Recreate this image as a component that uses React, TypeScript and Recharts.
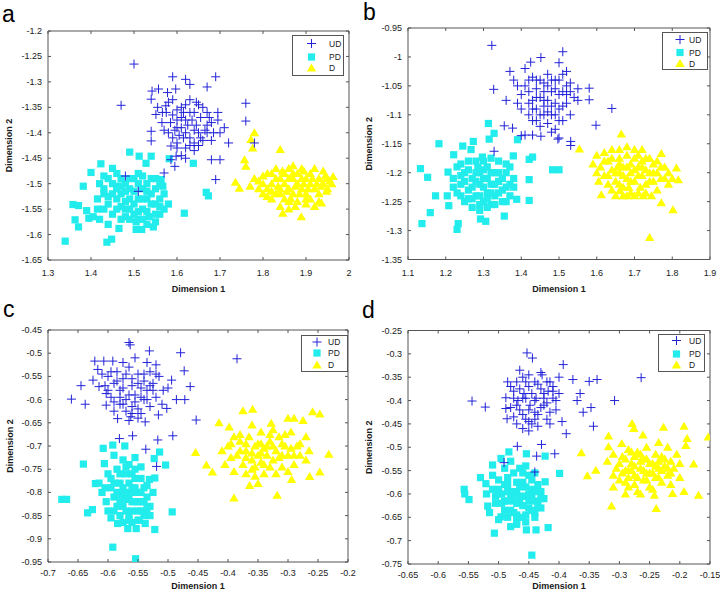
import React from 'react';
import { ScatterChart, Scatter, XAxis, YAxis, ReferenceLine, Legend } from 'recharts';

type P = [number, number];

// ---------- Panel a ----------
const aXTicks = [1.3, 1.4, 1.5, 1.6, 1.7, 1.8, 1.9, 2];
const aYTicks = [-1.65, -1.6, -1.55, -1.5, -1.45, -1.4, -1.35, -1.3, -1.25, -1.2];
const aUD: P[] = [[1.50,-1.265],[1.47,-1.346],[1.59,-1.29],[1.62,-1.295],[1.63,-1.305],[1.69,-1.29],[1.67,-1.31],[1.76,-1.342],[1.76,-1.377],[1.78,-1.42],[1.72,-1.42],[1.70,-1.453],[1.68,-1.453],[1.69,-1.492],[1.57,-1.479],[1.595,-1.466],[1.586,-1.453],[1.542,-1.318],[1.54,-1.334],[1.54,-1.397],[1.54,-1.416],[1.557,-1.314],[1.578,-1.321],[1.597,-1.314],[1.586,-1.426],[1.598,-1.446],[1.551,-1.364],[1.566,-1.36],[1.574,-1.347],[1.59,-1.335],[1.60,-1.355],[1.61,-1.37],[1.62,-1.345],[1.63,-1.335],[1.64,-1.36],[1.65,-1.345],[1.66,-1.35],[1.67,-1.36],[1.695,-1.36],[1.695,-1.375],[1.70,-1.40],[1.71,-1.39],[1.61,-1.39],[1.62,-1.40],[1.63,-1.41],[1.64,-1.42],[1.65,-1.40],[1.66,-1.415],[1.67,-1.40],[1.68,-1.415],[1.60,-1.43],[1.61,-1.445],[1.62,-1.45],[1.58,-1.40],[1.585,-1.38],[1.60,-1.375],[1.625,-1.385],[1.635,-1.375],[1.645,-1.385],[1.655,-1.37],[1.68,-1.38],[1.59,-1.41],[1.57,-1.395],[1.605,-1.405],[1.63,-1.425],[1.48,-1.485],[1.51,-1.515],[1.67,-1.385],[1.575,-1.36],[1.615,-1.36],
  [1.59,-1.365],[1.60,-1.39],[1.61,-1.35],[1.615,-1.41],[1.62,-1.375],[1.63,-1.36],[1.64,-1.395],[1.645,-1.34],[1.655,-1.41],[1.665,-1.395],[1.675,-1.37],[1.685,-1.40],[1.60,-1.42],[1.64,-1.435],[1.58,-1.34],[1.565,-1.38],[1.555,-1.35],[1.62,-1.43],[1.65,-1.425],[1.595,-1.395]];
const aPD: P[] = [[1.34,-1.613],[1.437,-1.615],[1.448,-1.609],[1.371,-1.585],[1.363,-1.571],[1.358,-1.541],[1.371,-1.543],[1.382,-1.505],[1.39,-1.553],[1.395,-1.568],[1.40,-1.478],[1.423,-1.461],[1.405,-1.565],[1.49,-1.438],[1.512,-1.446],[1.528,-1.46],[1.54,-1.446],[1.465,-1.588],[1.518,-1.59],[1.617,-1.558],[1.673,-1.524],[1.668,-1.517],[1.638,-1.46],[1.582,-1.451],[1.563,-1.492],[1.567,-1.505],[1.42,-1.50],[1.43,-1.52],[1.44,-1.54],[1.45,-1.50],[1.46,-1.48],[1.47,-1.52],[1.48,-1.55],[1.49,-1.51],[1.50,-1.49],[1.51,-1.53],[1.52,-1.55],[1.53,-1.50],[1.54,-1.52],[1.55,-1.54],[1.56,-1.56],[1.45,-1.56],[1.47,-1.57],[1.49,-1.57],[1.51,-1.57],[1.53,-1.58],[1.55,-1.575],[1.44,-1.58],[1.46,-1.53],[1.48,-1.50],[1.50,-1.54],[1.52,-1.51],[1.54,-1.49],[1.56,-1.53],[1.57,-1.55],[1.43,-1.55],[1.47,-1.49],[1.49,-1.53],[1.51,-1.50],[1.53,-1.53],[1.55,-1.51],[1.42,-1.57],[1.46,-1.505],[1.50,-1.56],[1.52,-1.485],[1.45,-1.52],[1.48,-1.535],[1.535,-1.565],[1.415,-1.53],[1.505,-1.59],
  [1.44,-1.49],[1.45,-1.47],[1.46,-1.51],[1.47,-1.545],[1.48,-1.515],[1.49,-1.49],[1.49,-1.55],[1.50,-1.515],[1.51,-1.48],[1.51,-1.555],[1.52,-1.53],[1.53,-1.515],[1.53,-1.555],[1.54,-1.54],[1.55,-1.49],[1.55,-1.56],[1.56,-1.50],[1.56,-1.545],[1.57,-1.52],[1.58,-1.54],[1.43,-1.51],[1.44,-1.525],[1.46,-1.55],[1.47,-1.505],[1.52,-1.57],[1.48,-1.565],[1.505,-1.575],[1.545,-1.585],[1.415,-1.55],[1.43,-1.485]];
const aD: P[] = [[1.78,-1.40],[1.772,-1.413],[1.776,-1.43],[1.84,-1.433],[1.757,-1.453],[1.76,-1.466],[1.736,-1.497],[1.745,-1.509],[1.889,-1.565],[1.846,-1.558],[1.963,-1.486],[1.948,-1.515],[1.936,-1.538],[1.78,-1.49],[1.79,-1.51],[1.80,-1.50],[1.81,-1.48],[1.82,-1.50],[1.83,-1.47],[1.83,-1.52],[1.84,-1.49],[1.85,-1.50],[1.85,-1.53],[1.86,-1.47],[1.86,-1.51],[1.87,-1.49],[1.87,-1.52],[1.88,-1.48],[1.88,-1.50],[1.89,-1.51],[1.89,-1.47],[1.90,-1.49],[1.90,-1.52],[1.91,-1.50],[1.91,-1.48],[1.92,-1.51],[1.92,-1.47],[1.93,-1.49],[1.94,-1.50],[1.95,-1.49],[1.96,-1.50],[1.82,-1.53],[1.84,-1.545],[1.86,-1.55],[1.90,-1.54],[1.92,-1.545],[1.88,-1.535],[1.80,-1.52],[1.77,-1.505],[1.93,-1.52],[1.87,-1.465],[1.83,-1.49],[1.85,-1.48],[1.89,-1.49],[1.91,-1.53],[1.94,-1.475],[1.86,-1.49],[1.81,-1.51],[1.95,-1.51],[1.84,-1.51],
  [1.80,-1.485],[1.82,-1.515],[1.835,-1.505],[1.845,-1.475],[1.855,-1.515],[1.865,-1.53],[1.875,-1.505],[1.885,-1.52],[1.895,-1.50],[1.905,-1.51],[1.915,-1.49],[1.925,-1.50],[1.935,-1.505],[1.945,-1.485],[1.955,-1.495],[1.87,-1.48],[1.895,-1.475],[1.82,-1.48],[1.79,-1.495],[1.86,-1.535],[1.90,-1.53],[1.84,-1.52],[1.875,-1.545],[1.93,-1.535],[1.81,-1.525]];

// ---------- Panel b ----------
const bXTicks = [1.1, 1.2, 1.3, 1.4, 1.5, 1.6, 1.7, 1.8, 1.9];
const bYTicks = [-1.35, -1.3, -1.25, -1.2, -1.15, -1.1, -1.05, -1, -0.95];
const bUD: P[] = [[1.322,-0.98],[1.327,-1.056],[1.51,-0.991],[1.452,-1.001],[1.425,-1.009],[1.58,-1.054],[1.58,-1.074],[1.64,-1.089],[1.598,-1.118],[1.355,-1.119],[1.377,-1.123],[1.328,-1.163],[1.531,-1.146],[1.531,-1.153],[1.497,-1.142],[1.452,-1.137],[1.40,-1.136],[1.36,-1.075],[1.37,-1.025],[1.38,-1.04],[1.39,-1.05],[1.40,-1.065],[1.41,-1.02],[1.42,-1.08],[1.43,-1.035],[1.44,-1.055],[1.45,-1.07],[1.46,-1.045],[1.47,-1.03],[1.48,-1.06],[1.49,-1.04],[1.50,-1.01],[1.50,-1.065],[1.51,-1.03],[1.52,-1.05],[1.53,-1.06],[1.54,-1.07],[1.55,-1.055],[1.42,-1.10],[1.43,-1.11],[1.44,-1.09],[1.45,-1.10],[1.46,-1.085],[1.47,-1.115],[1.48,-1.10],[1.49,-1.125],[1.50,-1.09],[1.51,-1.11],[1.52,-1.08],[1.53,-1.10],[1.41,-1.135],[1.43,-1.135],[1.48,-1.13],[1.50,-1.14],[1.40,-1.09],[1.39,-1.08],[1.47,-1.075],[1.44,-1.04],[1.52,-1.025],[1.46,-1.06],[1.49,-1.08],[1.42,-1.06],[1.51,-1.085],[1.45,-1.12],[1.55,-1.075],
  [1.41,-1.05],[1.42,-1.04],[1.43,-1.075],[1.44,-1.07],[1.45,-1.04],[1.46,-1.075],[1.47,-1.05],[1.48,-1.04],[1.48,-1.085],[1.49,-1.055],[1.50,-1.04],[1.51,-1.06],[1.52,-1.065],[1.53,-1.045],[1.46,-1.10],[1.44,-1.11],[1.47,-1.095],[1.50,-1.11],[1.49,-1.10],[1.43,-1.09]];
const bPD: P[] = [[1.133,-1.193],[1.137,-1.288],[1.159,-1.269],[1.152,-1.208],[1.173,-1.24],[1.182,-1.15],[1.204,-1.24],[1.208,-1.257],[1.23,-1.298],[1.233,-1.288],[1.206,-1.199],[1.221,-1.169],[1.245,-1.154],[1.267,-1.16],[1.273,-1.146],[1.313,-1.115],[1.328,-1.132],[1.315,-1.142],[1.297,-1.173],[1.39,-1.143],[1.379,-1.171],[1.388,-1.246],[1.355,-1.275],[1.306,-1.284],[1.292,-1.28],[1.421,-1.177],[1.43,-1.173],[1.421,-1.212],[1.421,-1.248],[1.483,-1.195],[1.50,-1.195],[1.285,-1.191],[1.22,-1.21],[1.23,-1.19],[1.24,-1.22],[1.25,-1.20],[1.26,-1.23],[1.26,-1.18],[1.27,-1.21],[1.28,-1.24],[1.28,-1.20],[1.29,-1.22],[1.30,-1.25],[1.30,-1.21],[1.31,-1.19],[1.31,-1.235],[1.32,-1.22],[1.32,-1.255],[1.33,-1.20],[1.33,-1.24],[1.34,-1.215],[1.34,-1.18],[1.35,-1.23],[1.36,-1.20],[1.36,-1.25],[1.37,-1.22],[1.38,-1.21],[1.25,-1.25],[1.27,-1.26],[1.29,-1.255],[1.24,-1.185],[1.35,-1.25],[1.31,-1.26],[1.23,-1.235],[1.37,-1.19],[1.28,-1.18],[1.32,-1.175],
  [1.25,-1.215],[1.26,-1.195],[1.27,-1.225],[1.27,-1.245],[1.28,-1.215],[1.29,-1.20],[1.29,-1.24],[1.30,-1.225],[1.30,-1.195],[1.31,-1.21],[1.31,-1.245],[1.32,-1.20],[1.32,-1.235],[1.33,-1.22],[1.33,-1.255],[1.34,-1.235],[1.34,-1.20],[1.35,-1.21],[1.36,-1.225],[1.37,-1.24],[1.22,-1.225],[1.24,-1.205],[1.26,-1.245],[1.29,-1.265],[1.38,-1.225],[1.30,-1.18],[1.24,-1.24],[1.36,-1.185]];
const bD: P[] = [[1.665,-1.133],[1.554,-1.159],[1.802,-1.264],[1.74,-1.312],[1.771,-1.252],[1.811,-1.192],[1.816,-1.212],[1.612,-1.238],[1.661,-1.231],[1.723,-1.24],[1.771,-1.167],[1.60,-1.17],[1.61,-1.19],[1.62,-1.165],[1.62,-1.205],[1.63,-1.18],[1.64,-1.195],[1.64,-1.16],[1.65,-1.215],[1.66,-1.175],[1.66,-1.20],[1.67,-1.19],[1.67,-1.225],[1.68,-1.17],[1.68,-1.21],[1.69,-1.185],[1.69,-1.20],[1.70,-1.175],[1.70,-1.215],[1.71,-1.19],[1.71,-1.17],[1.72,-1.205],[1.72,-1.18],[1.73,-1.195],[1.73,-1.22],[1.74,-1.175],[1.74,-1.20],[1.75,-1.185],[1.75,-1.215],[1.76,-1.20],[1.77,-1.19],[1.78,-1.21],[1.79,-1.20],[1.80,-1.21],[1.65,-1.24],[1.67,-1.24],[1.69,-1.235],[1.70,-1.24],[1.63,-1.22],[1.60,-1.20],[1.76,-1.23],[1.68,-1.155],[1.70,-1.16],[1.72,-1.16],[1.59,-1.185],[1.66,-1.16],[1.745,-1.24],[1.715,-1.225],[1.685,-1.225],[1.655,-1.19],
  [1.62,-1.18],[1.63,-1.205],[1.64,-1.175],[1.65,-1.20],[1.66,-1.185],[1.67,-1.205],[1.68,-1.19],[1.69,-1.215],[1.70,-1.195],[1.71,-1.205],[1.72,-1.19],[1.73,-1.175],[1.74,-1.215],[1.75,-1.20],[1.76,-1.18],[1.77,-1.21],[1.78,-1.19],[1.66,-1.22],[1.68,-1.24],[1.71,-1.235],[1.73,-1.235],[1.64,-1.23],[1.605,-1.215],[1.79,-1.22]];

// ---------- Panel c ----------
const cXTicks = [-0.7, -0.65, -0.6, -0.55, -0.5, -0.45, -0.4, -0.35, -0.3, -0.25, -0.2];
const cYTicks = [-0.95, -0.9, -0.85, -0.8, -0.75, -0.7, -0.65, -0.6, -0.55, -0.5, -0.45];
const cUD: P[] = [[-0.661,-0.599],[-0.638,-0.61],[-0.565,-0.477],[-0.563,-0.482],[-0.531,-0.495],[-0.479,-0.499],[-0.385,-0.512],[-0.473,-0.538],[-0.463,-0.572],[-0.472,-0.60],[-0.486,-0.60],[-0.453,-0.644],[-0.492,-0.678],[-0.517,-0.687],[-0.559,-0.678],[-0.581,-0.684],[-0.537,-0.707],[-0.519,-0.744],[-0.622,-0.517],[-0.607,-0.517],[-0.592,-0.517],[-0.617,-0.535],[-0.625,-0.558],[-0.615,-0.572],[-0.603,-0.587],[-0.603,-0.612],[-0.584,-0.641],[-0.562,-0.637],[-0.538,-0.648],[-0.516,-0.633],[-0.502,-0.619],[-0.508,-0.58],[-0.494,-0.558],[-0.60,-0.55],[-0.59,-0.565],[-0.585,-0.54],[-0.58,-0.58],[-0.575,-0.555],[-0.57,-0.60],[-0.565,-0.53],[-0.56,-0.57],[-0.555,-0.59],[-0.55,-0.545],[-0.55,-0.62],[-0.545,-0.575],[-0.54,-0.56],[-0.54,-0.60],[-0.535,-0.58],[-0.53,-0.54],[-0.525,-0.565],[-0.52,-0.595],[-0.515,-0.55],[-0.51,-0.61],[-0.58,-0.61],[-0.57,-0.625],[-0.56,-0.615],[-0.545,-0.63],[-0.595,-0.595],[-0.605,-0.57],[-0.575,-0.52],[-0.555,-0.51],[-0.535,-0.52],[-0.52,-0.525],[-0.59,-0.625],[-0.565,-0.645],[-0.53,-0.615],[-0.50,-0.575],[-0.645,-0.57],[-0.61,-0.545],
  [-0.595,-0.54],[-0.585,-0.56],[-0.58,-0.595],[-0.575,-0.575],[-0.57,-0.545],[-0.565,-0.59],[-0.56,-0.555],[-0.555,-0.605],[-0.55,-0.565],[-0.545,-0.595],[-0.54,-0.545],[-0.535,-0.60],[-0.53,-0.57],[-0.525,-0.58],[-0.56,-0.63],[-0.55,-0.64],[-0.575,-0.61],[-0.60,-0.58],[-0.59,-0.605],[-0.52,-0.545]];
const cPD: P[] = [[-0.677,-0.815],[-0.669,-0.815],[-0.641,-0.739],[-0.634,-0.844],[-0.626,-0.837],[-0.608,-0.705],[-0.592,-0.698],[-0.572,-0.70],[-0.592,-0.918],[-0.554,-0.943],[-0.493,-0.842],[-0.504,-0.741],[-0.514,-0.713],[-0.523,-0.727],[-0.522,-0.769],[-0.522,-0.88],[-0.531,-0.772],[-0.606,-0.738],[-0.621,-0.781],[-0.603,-0.82],[-0.584,-0.867],[-0.567,-0.878],[-0.553,-0.878],[-0.538,-0.867],[-0.615,-0.78],[-0.60,-0.76],[-0.595,-0.79],[-0.59,-0.81],[-0.585,-0.75],[-0.58,-0.78],[-0.575,-0.83],[-0.57,-0.80],[-0.57,-0.76],[-0.565,-0.85],[-0.56,-0.79],[-0.56,-0.82],[-0.555,-0.77],[-0.55,-0.84],[-0.55,-0.80],[-0.545,-0.82],[-0.54,-0.79],[-0.54,-0.85],[-0.535,-0.81],[-0.53,-0.83],[-0.585,-0.83],[-0.58,-0.85],[-0.6,-0.84],[-0.575,-0.73],[-0.565,-0.74],[-0.555,-0.75],[-0.545,-0.745],[-0.59,-0.72],[-0.58,-0.805],[-0.565,-0.815],[-0.548,-0.86],[-0.535,-0.785],[-0.61,-0.80],[-0.575,-0.865],[-0.56,-0.865],[-0.595,-0.855],[-0.525,-0.80],[-0.555,-0.725],
  [-0.59,-0.78],[-0.585,-0.80],[-0.58,-0.82],[-0.575,-0.79],[-0.57,-0.815],[-0.57,-0.84],[-0.565,-0.78],[-0.56,-0.80],[-0.56,-0.84],[-0.555,-0.82],[-0.555,-0.79],[-0.55,-0.82],[-0.55,-0.86],[-0.545,-0.80],[-0.545,-0.84],[-0.54,-0.82],[-0.535,-0.835],[-0.53,-0.85],[-0.58,-0.76],[-0.57,-0.745],[-0.59,-0.84],[-0.56,-0.76],[-0.595,-0.77],[-0.605,-0.79],[-0.565,-0.86],[-0.545,-0.77]];
const cD: P[] = [[-0.454,-0.714],[-0.436,-0.741],[-0.426,-0.756],[-0.39,-0.812],[-0.318,-0.806],[-0.375,-0.624],[-0.359,-0.621],[-0.259,-0.626],[-0.247,-0.631],[-0.232,-0.718],[-0.247,-0.756],[-0.264,-0.766],[-0.294,-0.772],[-0.415,-0.65],[-0.398,-0.659],[-0.364,-0.785],[-0.35,-0.781],[-0.328,-0.651],[-0.30,-0.64],[-0.29,-0.64],[-0.275,-0.645],[-0.27,-0.68],[-0.265,-0.71],[-0.27,-0.73],[-0.41,-0.71],[-0.40,-0.70],[-0.39,-0.68],[-0.385,-0.72],[-0.38,-0.69],[-0.375,-0.74],[-0.37,-0.71],[-0.365,-0.68],[-0.36,-0.75],[-0.355,-0.70],[-0.35,-0.72],[-0.345,-0.67],[-0.34,-0.74],[-0.335,-0.70],[-0.33,-0.69],[-0.325,-0.73],[-0.32,-0.71],[-0.315,-0.68],[-0.31,-0.745],[-0.305,-0.70],[-0.30,-0.72],[-0.295,-0.67],[-0.29,-0.74],[-0.285,-0.70],[-0.28,-0.72],[-0.37,-0.76],[-0.355,-0.765],[-0.34,-0.76],[-0.32,-0.76],[-0.405,-0.74],[-0.39,-0.755],[-0.36,-0.655],[-0.345,-0.695],[-0.325,-0.665],[-0.31,-0.72],[-0.30,-0.755],[-0.38,-0.71],[-0.395,-0.725],[-0.345,-0.715],
  [-0.38,-0.675],[-0.37,-0.695],[-0.36,-0.715],[-0.35,-0.695],[-0.345,-0.735],[-0.335,-0.72],[-0.33,-0.745],[-0.325,-0.70],[-0.315,-0.725],[-0.31,-0.695],[-0.305,-0.675],[-0.295,-0.705],[-0.29,-0.72],[-0.28,-0.695],[-0.36,-0.73],[-0.37,-0.725],[-0.34,-0.705],[-0.355,-0.745],[-0.33,-0.675],[-0.395,-0.695]];

// ---------- Panel d ----------
const dXTicks = [-0.65, -0.6, -0.55, -0.5, -0.45, -0.4, -0.35, -0.3, -0.25, -0.2, -0.15];
const dYTicks = [-0.75, -0.7, -0.65, -0.6, -0.55, -0.5, -0.45, -0.4, -0.35, -0.3, -0.25];
const dUD: P[] = [[-0.544,-0.401],[-0.522,-0.414],[-0.453,-0.298],[-0.444,-0.309],[-0.393,-0.323],[-0.264,-0.351],[-0.308,-0.40],[-0.343,-0.455],[-0.347,-0.415],[-0.35,-0.359],[-0.337,-0.355],[-0.377,-0.355],[-0.388,-0.471],[-0.407,-0.514],[-0.429,-0.494],[-0.437,-0.519],[-0.44,-0.553],[-0.469,-0.498],[-0.491,-0.533],[-0.488,-0.394],[-0.488,-0.417],[-0.486,-0.439],[-0.48,-0.37],[-0.475,-0.38],[-0.47,-0.36],[-0.468,-0.40],[-0.465,-0.42],[-0.46,-0.35],[-0.458,-0.385],[-0.455,-0.44],[-0.45,-0.37],[-0.448,-0.41],[-0.445,-0.45],[-0.44,-0.36],[-0.438,-0.395],[-0.435,-0.43],[-0.43,-0.375],[-0.428,-0.345],[-0.425,-0.41],[-0.42,-0.44],[-0.418,-0.38],[-0.415,-0.36],[-0.41,-0.395],[-0.405,-0.42],[-0.40,-0.385],[-0.40,-0.35],[-0.395,-0.445],[-0.47,-0.45],[-0.46,-0.46],[-0.45,-0.465],[-0.435,-0.455],[-0.415,-0.45],[-0.475,-0.435],[-0.485,-0.36],[-0.465,-0.335],[-0.43,-0.34],[-0.37,-0.40],[-0.36,-0.425],[-0.365,-0.385],[-0.44,-0.425],[-0.455,-0.395],[-0.425,-0.385],[-0.41,-0.37],[-0.45,-0.345],
  [-0.475,-0.395],[-0.47,-0.41],[-0.465,-0.375],[-0.46,-0.395],[-0.455,-0.36],[-0.45,-0.42],[-0.445,-0.385],[-0.44,-0.40],[-0.435,-0.365],[-0.43,-0.415],[-0.425,-0.395],[-0.42,-0.36],[-0.415,-0.425],[-0.41,-0.38],[-0.46,-0.43],[-0.45,-0.445],[-0.44,-0.44],[-0.48,-0.415],[-0.42,-0.405],[-0.405,-0.40]];
const dPD: P[] = [[-0.557,-0.59],[-0.556,-0.60],[-0.549,-0.612],[-0.53,-0.565],[-0.507,-0.684],[-0.445,-0.731],[-0.496,-0.524],[-0.483,-0.51],[-0.454,-0.514],[-0.423,-0.519],[-0.399,-0.556],[-0.418,-0.672],[-0.438,-0.677],[-0.454,-0.677],[-0.48,-0.67],[-0.423,-0.574],[-0.51,-0.538],[-0.521,-0.578],[-0.518,-0.626],[-0.496,-0.649],[-0.52,-0.60],[-0.51,-0.59],[-0.505,-0.62],[-0.50,-0.57],[-0.495,-0.60],[-0.49,-0.635],[-0.485,-0.58],[-0.48,-0.61],[-0.475,-0.555],[-0.475,-0.64],[-0.47,-0.595],[-0.465,-0.62],[-0.46,-0.575],[-0.46,-0.65],[-0.455,-0.605],[-0.45,-0.63],[-0.45,-0.56],[-0.445,-0.59],[-0.44,-0.615],[-0.44,-0.65],[-0.435,-0.58],[-0.43,-0.63],[-0.425,-0.61],[-0.49,-0.545],[-0.48,-0.53],[-0.465,-0.545],[-0.455,-0.54],[-0.44,-0.555],[-0.5,-0.655],[-0.485,-0.65],[-0.47,-0.665],[-0.455,-0.66],[-0.51,-0.56],[-0.515,-0.64],[-0.49,-0.615],[-0.475,-0.615],[-0.46,-0.605],[-0.445,-0.635],[-0.43,-0.595],[-0.5,-0.59],[-0.465,-0.585],[-0.485,-0.595],
  [-0.50,-0.60],[-0.495,-0.62],[-0.49,-0.58],[-0.485,-0.615],[-0.48,-0.595],[-0.48,-0.635],[-0.475,-0.60],[-0.47,-0.62],[-0.47,-0.645],[-0.465,-0.605],[-0.46,-0.625],[-0.455,-0.585],[-0.455,-0.645],[-0.45,-0.60],[-0.45,-0.615],[-0.445,-0.61],[-0.44,-0.595],[-0.435,-0.625],[-0.43,-0.61],[-0.47,-0.575],[-0.46,-0.555],[-0.445,-0.57],[-0.485,-0.565],[-0.505,-0.605],[-0.44,-0.64],[-0.47,-0.655]];
const dD: P[] = [[-0.363,-0.512],[-0.353,-0.561],[-0.339,-0.549],[-0.313,-0.626],[-0.279,-0.449],[-0.276,-0.46],[-0.239,-0.631],[-0.242,-0.603],[-0.212,-0.599],[-0.193,-0.595],[-0.169,-0.603],[-0.153,-0.478],[-0.193,-0.455],[-0.227,-0.457],[-0.188,-0.481],[-0.19,-0.496],[-0.177,-0.536],[-0.318,-0.476],[-0.318,-0.499],[-0.296,-0.492],[-0.261,-0.474],[-0.32,-0.53],[-0.31,-0.515],[-0.305,-0.545],[-0.30,-0.57],[-0.295,-0.52],[-0.29,-0.55],[-0.285,-0.505],[-0.285,-0.585],[-0.28,-0.535],[-0.275,-0.56],[-0.27,-0.51],[-0.27,-0.595],[-0.265,-0.545],[-0.26,-0.525],[-0.26,-0.57],[-0.255,-0.50],[-0.25,-0.555],[-0.25,-0.585],[-0.245,-0.535],[-0.24,-0.515],[-0.24,-0.565],[-0.235,-0.545],[-0.23,-0.52],[-0.23,-0.575],[-0.225,-0.54],[-0.22,-0.50],[-0.22,-0.56],[-0.215,-0.53],[-0.21,-0.545],[-0.205,-0.515],[-0.20,-0.565],[-0.20,-0.535],[-0.31,-0.585],[-0.29,-0.60],[-0.265,-0.60],[-0.235,-0.49],[-0.31,-0.56],[-0.275,-0.52],[-0.245,-0.59],[-0.215,-0.58],[-0.255,-0.525],[-0.285,-0.55],
  [-0.30,-0.535],[-0.295,-0.555],[-0.29,-0.525],[-0.285,-0.565],[-0.28,-0.55],[-0.275,-0.54],[-0.27,-0.565],[-0.265,-0.53],[-0.26,-0.55],[-0.255,-0.57],[-0.25,-0.535],[-0.245,-0.555],[-0.24,-0.54],[-0.235,-0.53],[-0.23,-0.55],[-0.225,-0.525],[-0.22,-0.545],[-0.215,-0.555],[-0.28,-0.51],[-0.265,-0.515],[-0.275,-0.58],[-0.29,-0.575],[-0.255,-0.555],[-0.235,-0.565]];

const seriesNames = ['UD', 'PD', 'D'];
const xTitle = 'Dimension 1';
const yTitle = 'Dimension 2';

const FONT = '"Liberation Sans", Arial, Helvetica, sans-serif';
const BLUE = '#2222d8';
const CYAN = '#22ecec';
const YELLOW = '#ffff00';
const FRAME = '#555555';
const TXT = '#1a1a1a';

const toXY = (arr: P[]) => arr.map(([x, y]) => ({ x, y }));
const fmt = (v: number) => String(Number(v.toFixed(3)));

function PlusShape(props: any) {
  const { cx, cy } = props;
  if (cx == null || cy == null) return null;
  return (
    <g>
      <line x1={cx - 4.5} x2={cx + 4.5} y1={cy} y2={cy} stroke={BLUE} strokeWidth={1} />
      <line x1={cx} x2={cx} y1={cy - 4.5} y2={cy + 4.5} stroke={BLUE} strokeWidth={1} />
    </g>
  );
}
function SquareShape(props: any) {
  const { cx, cy } = props;
  if (cx == null || cy == null) return null;
  return <rect x={cx - 3.6} y={cy - 3.6} width={7.2} height={7.2} fill={CYAN} />;
}
function TriShape(props: any) {
  const { cx, cy } = props;
  if (cx == null || cy == null) return null;
  return <polygon points={`${cx},${cy - 4.5} ${cx + 4.7},${cy + 3.5} ${cx - 4.7},${cy + 3.5}`} fill={YELLOW} />;
}

interface Panel {
  letter: string; lx: number; ly: number;
  L: number; R: number; T: number; B: number;
  xTicks: number[]; yTicks: number[];
  ud: P[]; pd: P[]; d: P[];
  xLabDy: number; xTitleY: number; yTitleX: number;
  lg: { left: number; top: number; w: number; h: number; mx: number; tx: number; rows: number[] };
}

const panels: Panel[] = [
  { letter: 'a', lx: 2, ly: 21.5, L: 48, R: 349, T: 31, B: 260, xTicks: aXTicks, yTicks: aYTicks, ud: aUD, pd: aPD, d: aD,
    xLabDy: 16, xTitleY: 292, yTitleX: 12, lg: { left: 292, top: 35, w: 52, h: 41, mx: 19.5, tx: 37, rows: [8.5, 22, 33] } },
  { letter: 'b', lx: 363, ly: 20, L: 408, R: 710, T: 28, B: 259.5, xTicks: bXTicks, yTicks: bYTicks, ud: bUD, pd: bPD, d: bD,
    xLabDy: 16, xTitleY: 292, yTitleX: 372, lg: { left: 662, top: 32, w: 46, h: 38, mx: 18, tx: 27, rows: [7.5, 20.5, 31.5] } },
  { letter: 'c', lx: 3, ly: 317, L: 48, R: 348, T: 330, B: 562, xTicks: cXTicks, yTicks: cYTicks, ud: cUD, pd: cPD, d: cD,
    xLabDy: 14, xTitleY: 588.5, yTitleX: 13, lg: { left: 301, top: 335, w: 47, h: 37, mx: 16, tx: 27, rows: [7, 18, 30] } },
  { letter: 'd', lx: 362, ly: 318, L: 408, R: 710, T: 330.5, B: 564, xTicks: dXTicks, yTicks: dYTicks, ud: dUD, pd: dPD, d: dD,
    xLabDy: 14, xTitleY: 588.5, yTitleX: 372, lg: { left: 658, top: 334, w: 47, h: 38, mx: 18.5, tx: 31, rows: [6.5, 20, 31] } },
];

function LegendBox({ lg }: { lg: Panel['lg'] }) {
  const shapes = [PlusShape, SquareShape, TriShape];
  return (
    <svg width={lg.w} height={lg.h} style={{ display: 'block' }}>
      <rect x={0.5} y={0.5} width={lg.w - 1} height={lg.h - 1} fill="#ffffff" stroke={FRAME} strokeWidth={1} />
      {seriesNames.map((n, i) => {
        const S = shapes[i];
        return (
          <g key={n}>
            <S cx={lg.mx} cy={lg.rows[i]} />
            <text x={lg.tx} y={lg.rows[i] + 3} fontSize={8.5} fontFamily={FONT} fill={TXT}>{n}</text>
          </g>
        );
      })}
    </svg>
  );
}

function PanelChart({ p }: { p: Panel }) {
  const YW = 40;
  const XH = 20;
  const xDom: [number, number] = [p.xTicks[0], p.xTicks[p.xTicks.length - 1]];
  const yDom: [number, number] = [p.yTicks[0], p.yTicks[p.yTicks.length - 1]];

  const XTick = (props: any) => {
    const { x, payload } = props;
    return (
      <g>
        <text x={x} y={p.B + p.xLabDy} textAnchor="middle" fontSize={9} fontFamily={FONT} fill={TXT}>{fmt(payload.value)}</text>
        <line x1={x} x2={x} y1={p.B} y2={p.B - 3} stroke={FRAME} />
        <line x1={x} x2={x} y1={p.T} y2={p.T + 3} stroke={FRAME} />
      </g>
    );
  };
  const YTick = (props: any) => {
    const { y, payload } = props;
    return (
      <g>
        <text x={p.L - 6} y={y + 3} textAnchor="end" fontSize={9} fontFamily={FONT} fill={TXT}>{fmt(payload.value)}</text>
        <line x1={p.L} x2={p.L + 3} y1={y} y2={y} stroke={FRAME} />
        <line x1={p.R} x2={p.R - 3} y1={y} y2={y} stroke={FRAME} />
      </g>
    );
  };
  const xLabel = () => (
    <g>
      <text x={(p.L + p.R) / 2} y={p.xTitleY} textAnchor="middle" fontSize={9} fontWeight="bold" fontFamily={FONT} fill={TXT}>{xTitle}</text>
      <text x={p.lx} y={p.ly} fontSize={23} fontFamily={FONT} fill="#000">{p.letter}</text>
    </g>
  );
  const yLabel = () => {
    const cy = (p.T + p.B) / 2;
    return (
      <text x={p.yTitleX} y={cy} transform={`rotate(-90 ${p.yTitleX} ${cy})`} textAnchor="middle" fontSize={9} fontWeight="bold" fontFamily={FONT} fill={TXT}>{yTitle}</text>
    );
  };

  return (
    <div style={{ position: 'absolute', left: 0, top: 0 }}>
      <ScatterChart
        width={720}
        height={591}
        margin={{ top: p.T, right: 720 - p.R, bottom: 591 - p.B - XH, left: p.L - YW }}
      >
        <XAxis type="number" dataKey="x" domain={xDom} ticks={p.xTicks} allowDataOverflow interval={0}
          height={XH} tickLine={false} tickSize={0} axisLine={{ stroke: FRAME }} tick={XTick} label={xLabel} />
        <YAxis type="number" dataKey="y" domain={yDom} ticks={p.yTicks} allowDataOverflow interval={0}
          width={YW} tickLine={false} tickSize={0} axisLine={{ stroke: FRAME }} tick={YTick} label={yLabel} />
        <ReferenceLine y={yDom[1]} stroke={FRAME} ifOverflow="extendDomain" />
        <ReferenceLine x={xDom[1]} stroke={FRAME} ifOverflow="extendDomain" />
        <Scatter name={seriesNames[1]} data={toXY(p.pd)} shape={SquareShape} isAnimationActive={false} />
        <Scatter name={seriesNames[2]} data={toXY(p.d)} shape={TriShape} isAnimationActive={false} />
        <Scatter name={seriesNames[0]} data={toXY(p.ud)} shape={PlusShape} isAnimationActive={false} />
        <Legend layout="vertical" align="center" verticalAlign="middle"
          wrapperStyle={{ position: 'absolute', left: p.lg.left, top: p.lg.top, width: p.lg.w, height: p.lg.h, margin: 0, padding: 0 }}
          content={() => <LegendBox lg={p.lg} />} />
      </ScatterChart>
    </div>
  );
}

export default function App() {
  return (
    <div style={{ position: 'absolute', left: 0, top: 0, width: 720, height: 591, background: '#ffffff' }}>
      {panels.map((p) => (
        <PanelChart key={p.letter} p={p} />
      ))}
    </div>
  );
}
